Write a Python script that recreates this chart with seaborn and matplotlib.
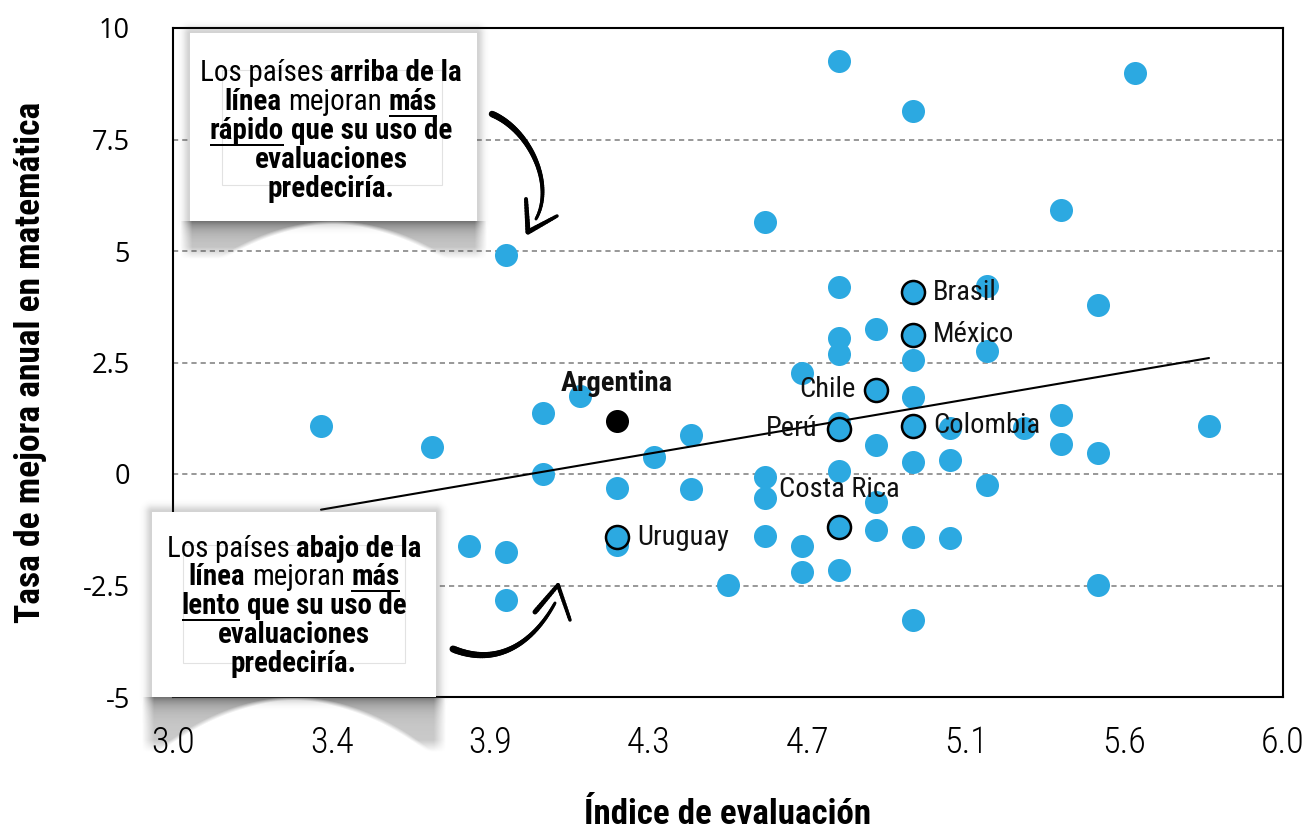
import numpy as np
import pandas as pd
import matplotlib
matplotlib.use("Agg")
import matplotlib.pyplot as plt
import seaborn as sns
from matplotlib import font_manager
from matplotlib.transforms import Affine2D
from matplotlib.collections import LineCollection
from matplotlib.patches import Rectangle

# ---------------- data ----------------
other_x = [3.4, 3.7, 3.8, 3.9, 3.9, 3.9, 4.0, 4.0, 4.1, 4.2, 4.2, 4.3, 4.4, 4.4, 4.5,
           4.6, 4.6, 4.6, 4.6, 4.7, 4.7, 4.7, 4.8, 4.8, 4.8, 4.8, 4.8, 4.8, 4.8,
           4.9, 4.9, 4.9, 4.9, 5.0, 5.0, 5.0, 5.0, 5.0, 5.0, 5.1, 5.1, 5.1,
           5.2, 5.2, 5.2, 5.3, 5.4, 5.4, 5.4, 5.5, 5.5, 5.5, 5.6, 5.8]
other_y = [1.08, 0.61, -1.62, -1.75, -2.83, 4.90, 1.37, 0.00, 1.75, -0.31, -1.60, 0.38, 0.88, -0.34, -2.49,
           5.64, -0.07, -0.54, -1.39, 2.27, -1.62, -2.20, 9.26, 4.20, 3.06, 2.70, 1.15, 0.07, -2.16,
           3.24, 0.65, -0.63, -1.26, 8.13, 2.56, 1.73, 0.27, -1.42, -3.28, 1.03, 0.31, -1.44,
           4.22, 2.76, -0.25, 1.03, 5.93, 1.33, 0.67, 3.80, 0.47, -2.49, 8.99, 1.08]

countries = ["Brasil", "México", "Chile", "Perú", "Colombia", "Costa Rica", "Uruguay"]
country_x = [5.0, 5.0, 4.9, 4.8, 5.0, 4.8, 4.2]
country_y = [4.07, 3.12, 1.89, 1.01, 1.08, -1.19, -1.42]

argentina_name = "Argentina"
argentina_x = [4.2]
argentina_y = [1.19]

trend_x = [3.4, 5.8]
trend_y = [-0.80, 2.60]

x_tick_labels = ["3.0", "3.4", "3.9", "4.3", "4.7", "5.1", "5.6", "6.0"]
y_ticks = [-5, -2.5, 0, 2.5, 5, 7.5, 10]
y_tick_labels = ["-5", "-2.5", "0", "2.5", "5", "7.5", "10"]

x_label = "Índice de evaluación"
y_label = "Tasa de mejora anual en matemática"

box_top_lines = [
    [("Los países", False, False), ("arriba de la", True, False)],
    [("línea", True, False), ("mejoran", False, False), ("más", True, True)],
    [("rápido", True, True), ("que su uso de", True, False)],
    [("evaluaciones", True, False)],
    [("predeciría.", True, False)],
]
box_bottom_lines = [
    [("Los países", False, False), ("abajo de la", True, False)],
    [("línea", True, False), ("mejoran", False, False), ("más", True, True)],
    [("lento", True, True), ("que su uso de", True, False)],
    [("evaluaciones", True, False)],
    [("predeciría.", True, False)],
]

# ---------------- style ----------------
BLUE = "#2CA9E1"
W, H = 1306, 834

sns.set_theme(style="white")
names = {f.name for f in font_manager.fontManager.ttflist}

def pick(cands):
    for c in cands:
        if c in names:
            return c
    return "DejaVu Sans"

NARROW = pick(["Liberation Sans Narrow", "Roboto Condensed", "Open Sans Condensed", "Lato", "Roboto"])
REG = pick(["Open Sans", "Lato", "Noto Sans"])
plt.rcParams["font.family"] = [NARROW, "DejaVu Sans"]

fig = plt.figure(figsize=(W / 100, H / 100), dpi=100)
ax = fig.add_axes([173 / W, 137 / H, 1110 / W, 669 / H])
renderer = fig.canvas.get_renderer()

# pixel transform (x right, y down, origin top-left of figure)
PX = Affine2D().scale(1, -1).translate(0, H)

def text_width(s, bold, size, family=None):
    t = fig.text(0, 0, s, fontsize=size, fontweight="bold" if bold else "normal",
                 fontfamily=family or NARROW)
    w = t.get_window_extent(renderer).width
    t.remove()
    return w

def fit_size(s, bold, target_px, family=None, cap=None):
    size = 20 * target_px / text_width(s, bold, 20, family)
    return min(size, cap) if cap else size

# ---------------- marks ----------------
sns.scatterplot(x=other_x, y=other_y, color=BLUE, s=275, linewidth=0, ax=ax, zorder=3)
sns.lineplot(x=trend_x, y=trend_y, color="black", linewidth=1.5, ax=ax, zorder=3.5)
sns.scatterplot(x=country_x, y=country_y, color=BLUE, edgecolor="black", linewidth=1.8,
                s=275, ax=ax, zorder=4)
sns.scatterplot(x=argentina_x, y=argentina_y, color="black", linewidth=0, s=275, ax=ax, zorder=4)

ax.set_xlim(3.0, 6.0)
ax.set_ylim(-5, 10)
ax.set_autoscale_on(False)

yt_size = fit_size("7.5", False, 38, family=REG, cap=21)
ax.set_xticks(np.linspace(3.0, 6.0, len(x_tick_labels)), labels=x_tick_labels,
              fontsize=26, fontfamily=NARROW, fontweight="light")
ax.set_yticks(y_ticks, labels=y_tick_labels, fontsize=yt_size, fontfamily=REG)
ax.tick_params(axis="x", length=0, pad=20, colors="black")
ax.tick_params(axis="y", length=0, pad=31, colors="black")

ax.yaxis.grid(True, color="#9a9a9a", linewidth=1.44, linestyle=(0, (2.6, 2.0)))
ax.xaxis.grid(False)
for sp in ax.spines.values():
    sp.set_visible(True)
    sp.set_color("black")
    sp.set_linewidth(1.5)
ax.yaxis.set_zorder(0.5)
ax.xaxis.set_zorder(9)

xl_size = fit_size(x_label, True, 286, cap=30)
yl_size = fit_size(y_label, True, 520, cap=30)
ax.set_xlabel(x_label, fontsize=xl_size, fontweight="bold", fontfamily=NARROW, va="center",
              color="black")
ax.set_ylabel(y_label, fontsize=yl_size, fontweight="bold", fontfamily=NARROW, va="center",
              color="black")
ax.xaxis.set_label_coords(0.5, -0.176)
ax.yaxis.set_label_coords(-0.1288, 0.5)

# country labels
lab_size = 20.5
arg_size = 20.5
label_pos = {
    "Brasil": ((14.4, 0), "left"),
    "México": ((14.4, 0), "left"),
    "Colombia": ((14.4, 0), "left"),
    "Uruguay": ((14.4, 0), "left"),
    "Chile": ((-15, 0), "right"),
    "Perú": ((-15.8, 0), "right"),
    "Costa Rica": ((0, 27), "center"),
}
for name, x, y in zip(countries, country_x, country_y):
    off, ha = label_pos[name]
    ax.annotate(name, (x, y), xytext=off, textcoords="offset points", ha=ha, va="center",
                fontsize=lab_size, fontfamily=NARROW, color="#111111", zorder=5)
ax.annotate(argentina_name, (argentina_x[0], argentina_y[0]), xytext=(0, 27),
            textcoords="offset points", ha="center", va="center", fontsize=arg_size,
            fontweight="bold", fontfamily=NARROW, color="#111111", zorder=5)

# ---------------- annotation boxes ----------------
def shadow_rgba(x0, x1, y0, y1, depth):
    pad = 14
    X0, X1 = x0 - pad, x1 + pad
    Y0, Y1 = y0 - pad, y1 + depth + 4
    xs = np.arange(X0, X1) + 0.5
    ys = np.arange(Y0, Y1) + 0.5
    XX, YY = np.meshgrid(xs, ys)
    dx = np.maximum(np.maximum(x0 - XX, XX - x1), 0)
    dy = np.maximum(np.maximum(y0 - YY, YY - y1), 0)
    d = np.hypot(dx, dy)
    glow = 0.22 * np.exp(-(d / 6.5) ** 2) * (d > 0)
    xc = (x0 + x1) / 2
    hw = (x1 - x0) / 2 + 10
    u = (XX - xc) / hw
    v = YY - y1
    b = 5 + 65 * u ** 2
    a = 0.26 + 0.45 * np.exp(-v / 9.0)
    fade_b = np.clip((b - v) / 5.0, 0, 1)
    fade_x = np.clip((1 - np.abs(u)) / 0.08, 0, 1)
    fade_v = np.clip((depth - v) / 12.0, 0, 1)
    curl = np.where(v > 0, a * fade_b * fade_x * fade_v, 0)
    alpha = np.clip(np.maximum(glow, curl), 0, 1)
    rgba = np.zeros(XX.shape + (4,))
    rgba[..., :3] = 0.2
    rgba[..., 3] = alpha
    return rgba, (X0, X1, Y1, Y0)

def line_width(segs, size):
    space = text_width("a a", True, size) - text_width("aa", True, size)
    return sum(text_width(s, b, size) for s, b, _ in segs) + space * (len(segs) - 1)

def rich_lines(lines, cx, baselines, size):
    space = text_width("a a", True, size) - text_width("aa", True, size)
    for segs, by in zip(lines, baselines):
        widths = [text_width(s, b, size) for s, b, _ in segs]
        total = sum(widths) + space * (len(segs) - 1)
        x = cx - total / 2
        for (s, b, ul), w in zip(segs, widths):
            ax.text(x, by, s, transform=PX, ha="left", va="baseline", fontsize=size,
                    fontweight="bold" if b else "normal", fontfamily=NARROW,
                    color="black", zorder=8, clip_on=False)
            if ul:
                ax.plot([x, x + w], [by + 6, by + 6], transform=PX, color="black",
                        linewidth=1.44, zorder=8, clip_on=False, solid_capstyle="butt")
            x += w + space

def draw_box(x0, x1, y0, y1, depth, inner, lines, cx, baselines, target):
    rgba, ext = shadow_rgba(x0, x1, y0, y1, depth)
    ax.imshow(rgba, extent=ext, transform=PX, aspect="auto", zorder=6,
              clip_on=False, interpolation="bilinear")
    ax.add_patch(Rectangle((x0, y0), x1 - x0, y1 - y0, transform=PX, facecolor="white",
                           edgecolor="none", zorder=7, clip_on=False))
    ix0, ix1, iy0, iy1 = inner
    ax.add_patch(Rectangle((ix0, iy0), ix1 - ix0, iy1 - iy0, transform=PX,
                           facecolor="none", edgecolor="#e2e2e2", linewidth=0.8,
                           zorder=7.5, clip_on=False))
    size = min(21, 20 * target / line_width(lines[2], 20))
    rich_lines(lines, cx, baselines, size)

draw_box(190, 477, 33, 221, 38, (222, 442, 70, 185), box_top_lines, 331,
         [81, 110, 139, 168, 197], 241)
draw_box(152, 436, 512, 697, 55, (183, 405, 545, 663), box_bottom_lines, 294,
         [557, 585, 614, 643, 672], 225)

# ---------------- hand-drawn arrows ----------------
def bezier(P, n=60):
    P = np.asarray(P, float)
    t = np.linspace(0, 1, n)[:, None]
    return ((1 - t) ** 3) * P[0] + 3 * ((1 - t) ** 2) * t * P[1] + \
        3 * (1 - t) * t ** 2 * P[2] + t ** 3 * P[3]

def brush(pts, w0, w1):
    pts = np.asarray(pts, float)
    segs = np.stack([pts[:-1], pts[1:]], axis=1)
    widths = np.linspace(w0, w1, len(segs)) * 0.72
    lc = LineCollection(segs, linewidths=widths, colors="black", capstyle="round",
                        transform=PX, zorder=8, clip_on=False)
    ax.add_collection(lc, autolim=False)

def straight(p, q, w0, w1, n=12):
    p = np.asarray(p, float); q = np.asarray(q, float)
    t = np.linspace(0, 1, n)[:, None]
    brush(p + (q - p) * t, w0, w1)

brush(bezier([(492, 114), (530, 130), (555, 185), (536, 219)]), 6.5, 3.0)
straight((526, 199), (528, 232), 4.0, 5.0)
straight((528, 232), (557, 216), 5.0, 3.5)

brush(bezier([(453, 649), (500, 668), (535, 640), (555, 603)]), 7.0, 3.0)
straight((535, 612), (558, 585), 5.0, 4.0)
straight((558, 585), (570, 620), 4.0, 3.5)

fig.savefig("out.png", dpi=100)
